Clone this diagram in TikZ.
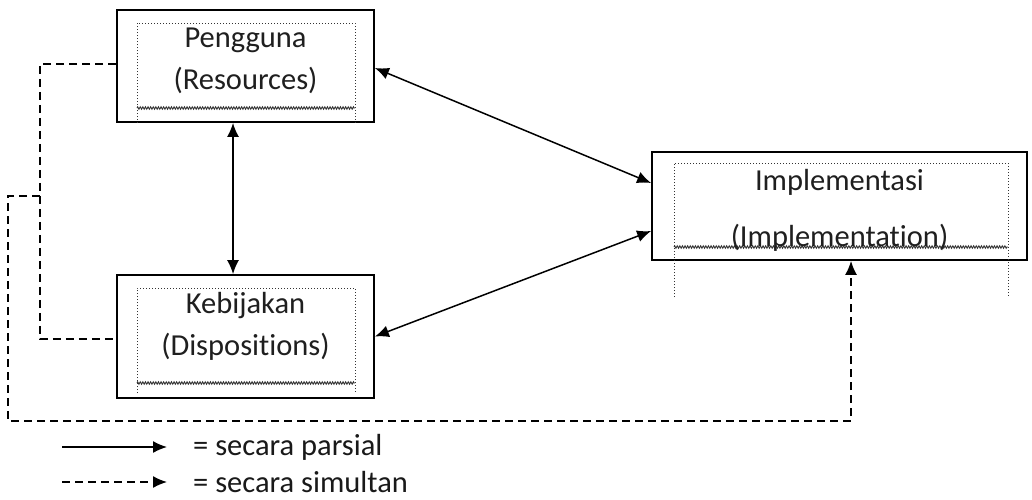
\documentclass[tikz,border=0pt]{standalone}
\usepackage{fontspec}
\setmainfont{Carlito}[Ligatures=NoCommon]
\usetikzlibrary{arrows.meta,decorations.pathmorphing}
\tikzset{
  outerbox/.style={draw, line width=1.8pt, inner sep=0pt, minimum width=257pt},
  boxtext/.style={align=center, inner sep=0pt, text=black!88,
    font=\fontsize{30.5}{42}\selectfont},
  legendtext/.style={anchor=west, inner sep=0pt, text=black!90,
    font=\fontsize{30.5}{34}\selectfont},
  innerdots/.style={line width=1pt, dotted, black!80},
  wavy/.style={line width=0.9pt, black!80,
    decorate, decoration={zigzag, amplitude=1.2pt, segment length=2.6pt}},
  partial/.style={line width=1.5pt, {Latex[length=14pt,width=12pt]}-{Latex[length=14pt,width=12pt]}},
  simul/.style={line width=1.5pt, dash pattern=on 8pt off 5pt}
}
\newcommand{\innerframe}[5]{%
  \draw[innerdots] (#1,#5) -- (#1,#3) -- (#2,#3) -- (#2,#5);
  \draw[wavy] (#1,#4) -- (#2,#4);}
\begin{document}
\begin{tikzpicture}[x=1pt, y=-1pt]
  \useasboundingbox[fill=white] (0,0) rectangle (1032,499);

  % boxes
  \node[outerbox, minimum height=112pt] (pengguna) at (245.5,66) {};
  \node[outerbox, minimum height=123pt] (kebijakan) at (245.5,336.5) {};
  \node[outerbox, minimum width=375pt, minimum height=108pt] (impl) at (839.5,206) {};

  \innerframe{137}{355}{23}{108}{123}
  \innerframe{137}{355}{288}{383}{393}
  \innerframe{674}{1008}{163}{247}{297}

  \node[boxtext] (penggunaTxt) at (245.5,61) {Pengguna\\(Resources)};
  \node[boxtext] (kebijakanTxt) at (245.5,326) {Kebijakan\\(Dispositions)};
  \node[boxtext] (implTxt) at (839.5,210) {Implementasi\\[14pt](Implementation)};

  % secara parsial
  \draw[partial] ([xshift=-12.5pt]pengguna.south) -- ([xshift=-12.5pt]kebijakan.north);
  \draw[partial] ([yshift=-2pt]pengguna.east) -- ([yshift=23pt]impl.west);
  \draw[partial] (kebijakan.east) -- ([yshift=-25pt]impl.west);

  % secara simultan
  \coordinate (joinA) at (40,196);
  \coordinate (outerB) at (8,421);
  \draw[simul] ([yshift=2pt]pengguna.west) -| (joinA) |- ([yshift=-2.5pt]kebijakan.west);
  \draw[simul, -{Latex[length=14pt,width=12pt]}] (joinA) -| (outerB) -| ([xshift=11.5pt]impl.south);

  % legend
  \node[legendtext] (parsialTxt) at (193,447) {= secara parsial};
  \node[legendtext] (simultanTxt) at (193,482) {= secara simultan};
  \coordinate (parsialStart) at (62,447);
  \coordinate (simultanStart) at (62,482);
  \draw[line width=1.5pt, -{Latex[length=14pt,width=12pt]}] (parsialStart) -- ([xshift=-26pt]parsialTxt.west);
  \draw[simul, -{Latex[length=14pt,width=12pt]}] (simultanStart) -- ([xshift=-26pt]simultanTxt.west);
\end{tikzpicture}
\end{document}
